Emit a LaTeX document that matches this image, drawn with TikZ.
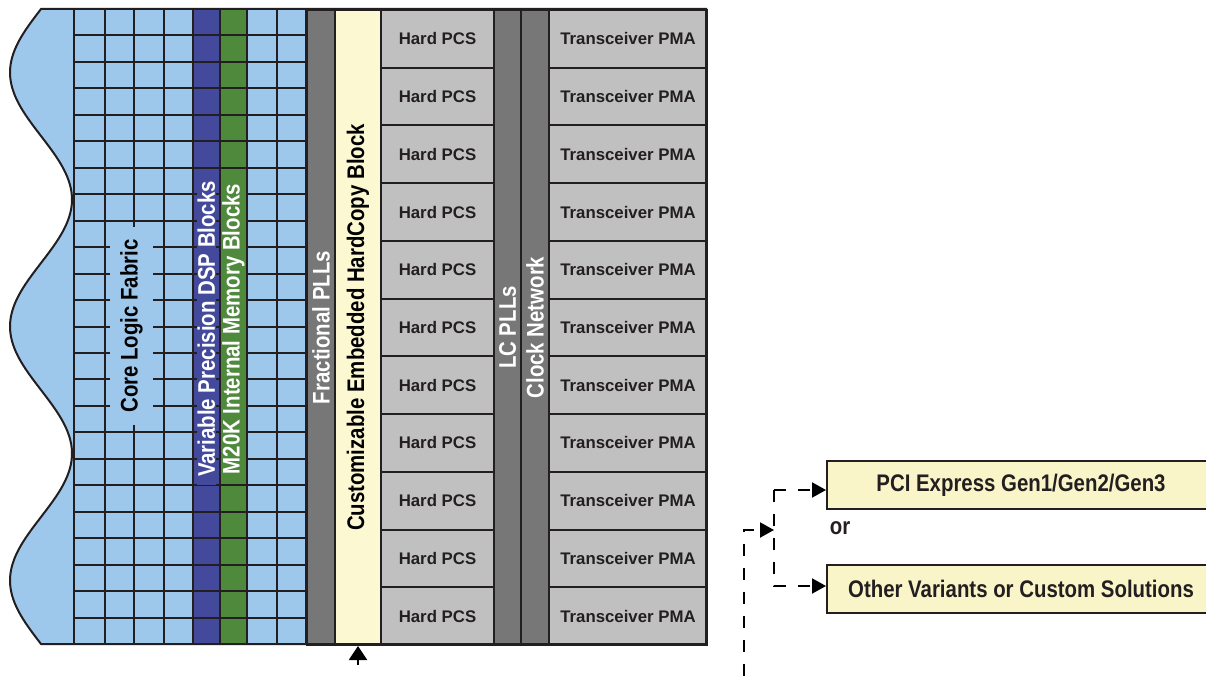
\documentclass[tikz,border=0pt]{standalone}
\usepackage{fontspec}
\setmainfont{Liberation Sans}
\usetikzlibrary{arrows.meta}
\definecolor{fabric}{RGB}{157,200,235}
\definecolor{dspblue}{RGB}{67,74,156}
\definecolor{memgreen}{RGB}{79,138,60}
\definecolor{pllgray}{RGB}{119,119,119}
\definecolor{pcsgray}{RGB}{192,192,192}
\definecolor{hcyellow}{RGB}{252,249,210}
\definecolor{boxyellow}{RGB}{250,245,200}
\definecolor{inkblack}{RGB}{35,31,32}
\newcommand{\cond}[1]{\scalebox{0.85}[1]{#1}}
\begin{document}
\begin{tikzpicture}[x=1pt,y=-1pt,line join=miter,
  gridline/.style={draw=inkblack,line width=2pt},
  outline/.style={draw=inkblack,line width=2pt},
  colbox/.style={draw=inkblack,line width=2pt,anchor=north west,inner sep=0pt,minimum height=635pt},
  cellbox/.style={draw=inkblack,line width=2pt,anchor=north west,inner sep=0pt,minimum height=57.73pt,fill=pcsgray,text=inkblack,font=\bfseries\fontsize{16.8}{18}\selectfont},
  vlabel/.style={rotate=90,font=\bfseries\fontsize{24}{26}\selectfont,inner xsep=8pt,inner ysep=1pt},
  rbox/.style={draw=inkblack,line width=2pt,fill=boxyellow,anchor=north west,minimum width=388pt,minimum height=48pt,inner sep=0pt,text=inkblack,font=\bfseries\fontsize{24}{26}\selectfont},
  dsh/.style={draw=black,line width=2pt,dash pattern=on 12pt off 12pt,-{Triangle[length=14pt,width=15pt]}},
  solidarrow/.style={draw=black,line width=2pt,-{Triangle[length=14pt,width=18pt]}}
]
\useasboundingbox (0,0) rectangle (1206,676);

% fabric fill with wavy edge
\fill[fabric] (306,9) -- (41,9) -- plot[domain=9:644,samples=160,smooth] ({41-31*sin((\x-9)*1.417323)},\x) -- (306,644) -- cycle;
% DSP and memory columns
\fill[dspblue] (193,9) rectangle (219.8,644);
\fill[memgreen] (219.8,9) rectangle (247,644);
% grid
\foreach \gx in {74,104.5,134,163.5,193,219.8,247,277,306}
  \draw[gridline] (\gx,9) -- (\gx,644);
\foreach \i in {1,...,23}
  \draw[gridline] (74,9+\i*26.4583) -- (306,9+\i*26.4583);

% grid labels
\node[vlabel,fill=fabric,inner xsep=12pt,inner ysep=10pt,text=black] (corelabel) at (131.5,326) {\cond{Core Logic Fabric}};
\node[vlabel,fill=dspblue,text=white] (dsplabel) at (206.4,329) {\cond{Variable Precision DSP Blocks}};
\node[vlabel,fill=memgreen,text=white] (memlabel) at (233.4,329) {\cond{M20K Internal Memory Blocks}};

% columns
\node[colbox,fill=pllgray,minimum width=28pt] (fpll) at (306,9) {};
\node[colbox,fill=hcyellow,minimum width=46pt] (hc) at (334,9) {};
\node[colbox,fill=pllgray,minimum width=27pt] (lcpll) at (493,9) {};
\node[colbox,fill=pllgray,minimum width=28pt] (clk) at (520,9) {};
\node[vlabel,text=white] (fplllabel) at (fpll.center) {\cond{Fractional PLLs}};
\node[vlabel,text=black] (hclabel) at (hc.center) {\cond{Customizable Embedded HardCopy Block}};
\node[vlabel,text=white] (lclabel) at (lcpll.center) {\cond{LC PLLs}};
\node[vlabel,text=white] (clklabel) at (clk.center) {\cond{Clock Network}};

% PCS and PMA cells
\foreach \i in {0,...,10}{
  \node[cellbox,minimum width=113pt] (pcs\i) at (380,9+\i*57.727) {Hard PCS};
  \node[cellbox,minimum width=158pt] (pma\i) at (548,9+\i*57.727) {Transceiver PMA};
}

% outline
\draw[outline] (706,9) -- (41,9) -- plot[domain=9:644,samples=160,smooth] ({41-31*sin((\x-9)*1.417323)},\x) -- (706,644) -- cycle;

% bottom arrow into HardCopy block
\coordinate (hcin) at ([yshift=-19pt]hc.south);
\draw[solidarrow] (hcin) -- (hc.south);

% right side options
\node[rbox] (pcie) at (826,460) {\cond{PCI Express Gen1/Gen2/Gen3}};
\node[rbox] (other) at (826,564) {\cond{Other Variants or Custom Solutions}};
\node[font=\bfseries\fontsize{24}{26}\selectfont,text=inkblack,inner sep=0pt] (orlabel) at (840,528) {\cond{or}};

\coordinate (src) at (744,700);
\coordinate (junc) at (774,530);
\coordinate (btop) at (774,490);
\coordinate (bbot) at (774,586);
\draw[dsh] (src) |- (junc);
\draw[dsh] (btop) -- (pcie.west |- btop);
\draw[dsh] (btop) |- (other.west |- bbot);
\end{tikzpicture}
\end{document}
